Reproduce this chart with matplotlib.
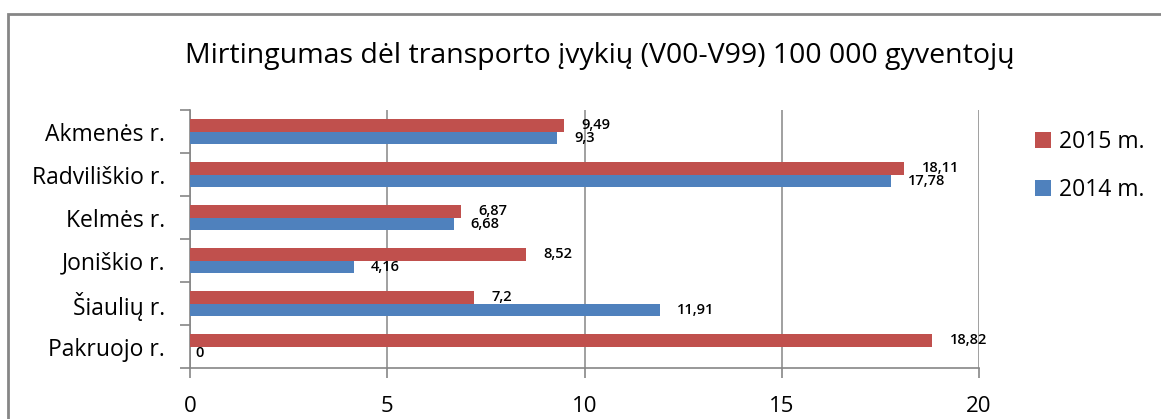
import matplotlib.pyplot as plt
import matplotlib.patches as mpatches
import numpy as np

plt.rcParams['font.family'] = ['Open Sans', 'DejaVu Sans']

# data
regions = ['Akmenės r.', 'Radviliškio r.', 'Kelmės r.', 'Joniškio r.', 'Šiaulių r.', 'Pakruojo r.']
values_2015 = [9.49, 18.11, 6.87, 8.52, 7.2, 18.82]
values_2014 = [9.3, 17.78, 6.68, 4.16, 11.91, 0]
label_2015 = '2015 m.'
label_2014 = '2014 m.'

red = '#C0504D'
blue = '#4F81BD'
grey = '#868686'

W, H = 1161, 419
fig = plt.figure(figsize=(W / 100, H / 100), dpi=100)
ax = fig.add_axes([190 / W, 1 - 368 / H, (979 - 190) / W, (368 - 110) / H])

# outer chart border (runs off the right and bottom edges)
fig.patches.append(mpatches.Rectangle((8 / W, -0.1), 1.2, 1 - 14 / H + 0.1,
                                      transform=fig.transFigure, fill=False,
                                      edgecolor=grey, linewidth=2, clip_on=False))

n = len(regions)
y = np.arange(n)
h = 0.286
bars_red = ax.barh(y - h / 2, values_2015, height=h, color=red, linewidth=0, label=label_2015, zorder=3)
bars_blue = ax.barh(y + h / 2, values_2014, height=h, color=blue, linewidth=0, label=label_2014, zorder=3)

def fmt(v):
    return f'{v:g}'.replace('.', ',')

for bars, vals in ((bars_red, values_2015), (bars_blue, values_2014)):
    for b, v in zip(bars, vals):
        ax.annotate(fmt(v), (v, b.get_y() + b.get_height() / 2), xytext=(17 if v > 0 else 5, 0),
                    textcoords='offset pixels', va='center', ha='left',
                    fontsize=10.5, fontweight='semibold', color='black', zorder=5)

ax.set_xlim(0, 20)
ax.set_ylim(n - 0.5, -0.5)
ax.set_xticks([0, 5, 10, 15, 20])
ax.set_xticklabels(['0', '5', '10', '15', '20'], fontsize=16)
ax.set_yticks(y)
ax.set_yticklabels(regions, fontsize=16.5)
ax.set_yticks(np.arange(n + 1) - 0.5, minor=True)
ax.tick_params(axis='y', which='major', length=0, pad=18)
ax.tick_params(axis='y', which='minor', length=7, color=grey, width=1.2)
ax.tick_params(axis='x', length=7, color=grey, width=1.2, pad=13)

ax.grid(axis='x', color=grey, linewidth=1.1, zorder=0)
for side in ('top', 'right'):
    ax.spines[side].set_visible(False)
for side in ('left', 'bottom'):
    ax.spines[side].set_color(grey)
    ax.spines[side].set_linewidth(1.2)

fig.text(600 / W, 1 - 56 / H, 'Mirtingumas dėl transporto įvykių (V00-V99) 100 000 gyventojų',
         ha='center', va='center', fontsize=20.5, fontweight='medium')

leg = fig.legend(handles=[bars_red, bars_blue], loc='upper left',
                 bbox_to_anchor=(1014 / W, 1 - 109 / H), frameon=False,
                 fontsize=16.5, handlelength=0.7, handleheight=0.7,
                 handletextpad=0.35, labelspacing=1.05)

fig.savefig('out.png', dpi=100)
